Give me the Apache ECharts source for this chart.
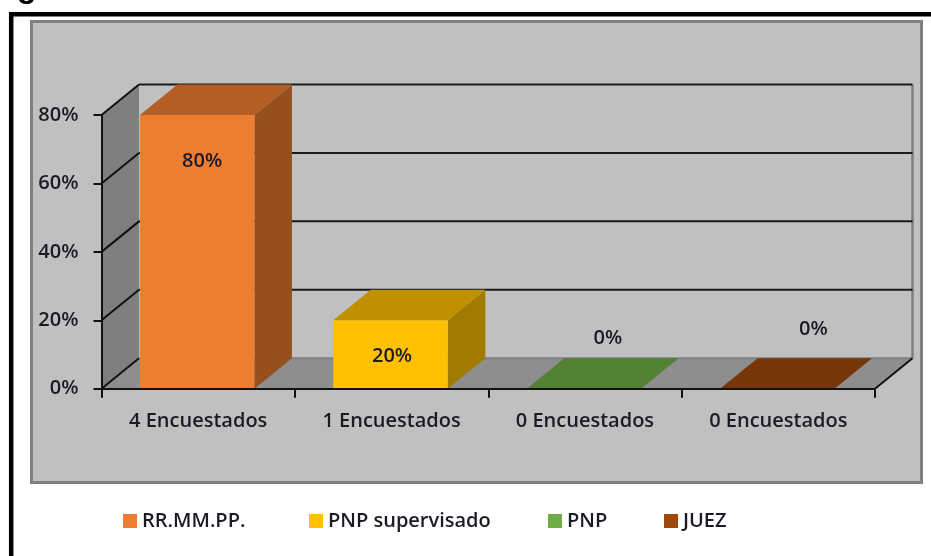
<!DOCTYPE html>
<html><head><meta charset="utf-8">
<style>html,body{margin:0;padding:0;background:#fff}#c{width:931px;height:556px;filter:blur(.45px)}</style>
<script src="https://cdn.jsdelivr.net/npm/echarts@6/dist/echarts.min.js"></script>
</head><body><div id="c"></div>
<script>
const categories = ['4 Encuestados', '1 Encuestados', '0 Encuestados', '0 Encuestados'];
const seriesNames = ['RR.MM.PP.', 'PNP supervisado', 'PNP', 'JUEZ'];
const percentValues = [80, 20, 0, 0];
const yTicks = [0, 20, 40, 60, 80];

const frontColors = ['#ed7d31', '#ffc000', '#70ad47', '#9e480e'];
const topColors = ['#b25e24', '#bf9000', '#548235', '#773608'];
const sideColors = ['#95501d', '#a17a00', '#466d2c', '#5f2b06'];
const labelShifts = [[4, 46], [0.5, 36.5], [23, -50], [35, -59]];
const legendLefts = [118, 304, 543, 659];
const DX = 37.5, DY = -30.5, BAR_RATIO = 0.592;
const FONT = '"Open Sans", sans-serif';
const FS = 20;
const INK = '#1b1b26';

const chart = echarts.init(document.getElementById('c'));

function renderWalls(params, api) {
  const v = api.value(1);
  const band = api.size([1, 0])[0];
  const l = api.coord([0, v]); l[0] -= band / 2;
  const r = api.coord([categories.length - 1, v]); r[0] += band / 2;
  const children = [];
  const seg = (a, b, stroke, w) => ({ type: 'line', shape: { x1: a[0], y1: a[1], x2: b[0], y2: b[1] }, style: { stroke, lineWidth: w } });
  if (params.dataIndex === 0) {
    const t = api.coord([0, yTicks[yTicks.length - 1]]); t[0] -= band / 2;
    children.push({ type: 'polygon', shape: { points: [l, [l[0] + DX, l[1] + DY], [t[0] + DX, t[1] + DY], t] }, style: { fill: '#7f7f7f' } });
    children.push({ type: 'polygon', shape: { points: [l, r, [r[0] + DX, r[1] + DY], [l[0] + DX, l[1] + DY]] }, style: { fill: '#8e8e8e' } });
    children.push(seg([r[0] + DX, r[1] + DY], [r[0] + DX, t[1] + DY], '#808080', 2.5));
    children.push(seg([l[0] + DX, l[1] + DY], [r[0] + DX, r[1] + DY], '#808080', 2));
    children.push(seg(r, [r[0] + DX, r[1] + DY], '#111', 2));
  } else {
    children.push(seg([l[0] + DX, l[1] + DY], [r[0] + DX, r[1] + DY], '#1a1a1a', 2));
  }
  children.push(seg(l, [l[0] + DX, l[1] + DY], '#111', 2));
  return { type: 'group', children };
}

function renderBar(i) {
  return function (params, api) {
    const band = api.size([1, 0])[0];
    const w = band * BAR_RATIO;
    const top = api.coord([api.value(0), api.value(1)]);
    const base = api.coord([api.value(0), 0]);
    const x0 = top[0] - w / 2 - 1, x1 = top[0] + w / 2 - 1;
    const children = [];
    if (base[1] - top[1] > 0) {
      children.push({ type: 'polygon', shape: { points: [[x1, top[1]], [x1 + DX, top[1] + DY], [x1 + DX, base[1] + DY], [x1, base[1]]] }, style: { fill: sideColors[i] } });
      children.push({ type: 'rect', shape: { x: x0, y: top[1], width: w, height: base[1] - top[1] }, style: { fill: frontColors[i] } });
    }
    children.push({ type: 'polygon', shape: { points: [[x0, top[1]], [x0 + DX, top[1] + DY], [x1 + DX, top[1] + DY], [x1, top[1]]] }, style: { fill: topColors[i] } });
    children.push({
      type: 'text', z2: 10,
      style: {
        x: top[0] + labelShifts[i][0], y: top[1] + labelShifts[i][1],
        text: api.value(1) + '%', align: 'center', verticalAlign: 'middle',
        font: '600 ' + FS + 'px ' + FONT, fill: INK
      }
    });
    return { type: 'group', children };
  };
}

chart.setOption({
  animation: false,
  backgroundColor: '#fff',
  graphic: [
    { type: 'text', z: -3, style: { x: 17, y: -28, text: 'g', font: 'bold 32px "Liberation Sans", sans-serif', fill: '#000' } },
    { type: 'rect', z: -3, shape: { x: 11.2, y: 14.2, width: 1200, height: 1000 }, style: { fill: '#fff', stroke: '#000', lineWidth: 4.5 } },
    { type: 'rect', z: -2, shape: { x: 31.5, y: 21.5, width: 890, height: 461 }, style: { fill: '#c0c0c0', stroke: '#808080', lineWidth: 3 } }
  ],
  grid: { left: 101.5, right: 56, top: 115, bottom: 167.3, containLabel: false },
  legend: seriesNames.map((name, i) => ({
    data: [name], left: legendLefts[i], top: 506, icon: 'rect', itemWidth: 14, itemHeight: 14,
    textStyle: { fontFamily: FONT, fontWeight: 600, fontSize: FS, color: INK },
    selectedMode: false
  })),
  xAxis: {
    type: 'category', data: categories, z: 5,
    axisLine: { lineStyle: { color: '#111', width: 2 } },
    axisTick: { show: true, length: 9, lineStyle: { color: '#111', width: 2 } },
    axisLabel: { margin: 23, fontFamily: FONT, fontWeight: 600, fontSize: FS, color: INK, interval: 0 }
  },
  yAxis: {
    type: 'value', min: 0, max: 80, interval: 20, z: 5,
    splitLine: { show: false },
    axisLine: { show: true, lineStyle: { color: '#111', width: 2 } },
    axisTick: { show: true, length: 8, lineStyle: { color: '#111', width: 2 } },
    axisLabel: { margin: 23, padding: [2, 0, 0, 0], formatter: '{value}%', fontFamily: FONT, fontWeight: 600, fontSize: FS, color: INK }
  },
  series: [
    { name: 'walls', type: 'custom', silent: true, z: 1, encode: { x: 0, y: 1 }, data: yTicks.map(v => [0, v]), renderItem: renderWalls }
  ].concat(seriesNames.map((name, i) => ({
    name, type: 'custom', z: 2, silent: true,
    itemStyle: { color: frontColors[i] },
    encode: { x: 0, y: 1 },
    data: [[i, percentValues[i]]],
    renderItem: renderBar(i)
  })))
});
</script></body></html>
